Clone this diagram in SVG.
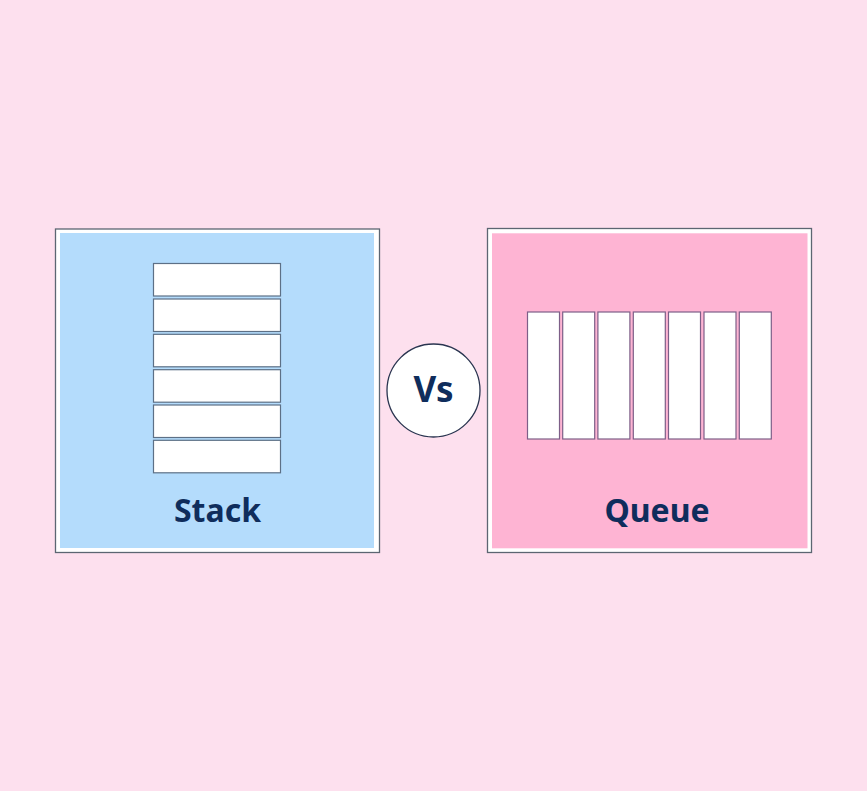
<svg xmlns="http://www.w3.org/2000/svg" width="867" height="791" viewBox="0 0 867 791">
<style>
.frame{fill:#ffffff;stroke:#5c6672;stroke-width:1.3}
.cellS{fill:#ffffff;stroke:#5d7086;stroke-width:1.2}
.cellQ{fill:#ffffff;stroke:#7d5f88;stroke-width:1.2}
.lbl{font-family:"Noto Sans","Open Sans",sans-serif;font-weight:bold;fill:#0f2d5c;text-anchor:middle}
</style>
<rect x="0" y="0" width="867" height="791" fill="#fde0ee"/>
<g id="stack">
<rect class="frame" x="55.5" y="229" width="324" height="323.5"/>
<rect x="60" y="233" width="314" height="315" fill="#b4dcfc"/>
<rect class="cellS" x="153.5" y="263.5" width="127" height="32.5"/>
<rect class="cellS" x="153.5" y="299" width="127" height="32.5"/>
<rect class="cellS" x="153.5" y="334.3" width="127" height="32.5"/>
<rect class="cellS" x="153.5" y="369.7" width="127" height="32.5"/>
<rect class="cellS" x="153.5" y="405" width="127" height="32.5"/>
<rect class="cellS" x="153.5" y="440.3" width="127" height="32.5"/>
<text class="lbl" x="217.5" y="522" font-size="32">Stack</text>
</g>
<g id="queue">
<rect class="frame" x="487.5" y="228.5" width="324" height="324"/>
<rect x="492" y="233.3" width="315.5" height="315" fill="#feb4d3"/>
<rect class="cellQ" x="527.5" y="312" width="32" height="127"/>
<rect class="cellQ" x="562.7" y="312" width="32" height="127"/>
<rect class="cellQ" x="597.9" y="312" width="32" height="127"/>
<rect class="cellQ" x="633.3" y="312" width="32" height="127"/>
<rect class="cellQ" x="668.5" y="312" width="32" height="127"/>
<rect class="cellQ" x="704" y="312" width="32" height="127"/>
<rect class="cellQ" x="739.3" y="312" width="32" height="127"/>
<text class="lbl" x="657" y="522" font-size="32">Queue</text>
</g>
<g id="vs">
<circle cx="433.5" cy="390.5" r="46.5" fill="#ffffff" stroke="#2a3550" stroke-width="1.3"/>
<text class="lbl" x="433.5" y="402" font-size="35">Vs</text>
</g>
<g id="connectors"></g>
</svg>
